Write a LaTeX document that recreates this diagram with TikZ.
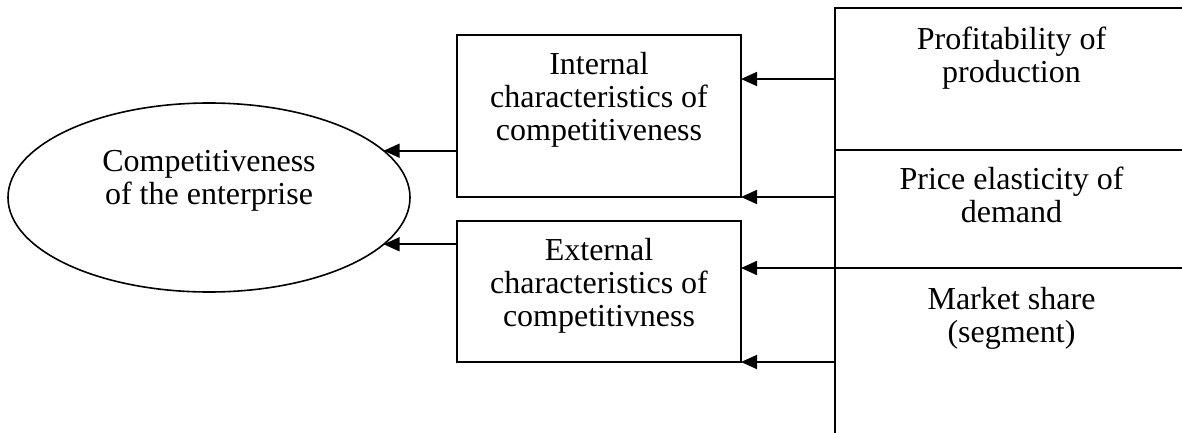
\documentclass[tikz,border=0pt]{standalone}
\usepackage{fontspec}
\setmainfont{Liberation Serif}
\usetikzlibrary{arrows.meta,positioning,shapes.geometric}

\begin{document}
\begin{tikzpicture}[x=1pt,y=1pt,
 node distance=24pt,
 b/.style={draw,line width=1.6pt,minimum width=284pt,inner sep=0pt,outer sep=0pt},
 c/.style={draw,line width=1.6pt,minimum width=353pt,inner sep=0pt,outer sep=0pt},
 t/.style={font=\fontsize{32}{33}\selectfont,align=center,inner sep=0pt,anchor=north},
 a/.style={-{Triangle[length=16pt,width=14pt]},line width=1.6pt}
]
\useasboundingbox (0,0) rectangle (1182,432);
\node[ellipse,draw,line width=1.6pt,outer sep=0pt,minimum width=402pt,minimum height=189pt,label={[t,yshift=-47pt]north:Competitiveness\\of the enterprise}] (comp) at (209,234.5) {};
\node[b,minimum height=162pt,label={[t,yshift=-17pt]north:Internal\\characteristics of\\competitiveness}] (intbox) at (599,316) {};
\node[b,minimum height=141pt,below=of intbox,label={[t,yshift=-17pt]north:External\\characteristics of\\competitivness}] (extbox) {};
\node[c,minimum height=142pt,label={[t,yshift=-19pt]north:Profitability of\\production}] (prof) at (1011.5,353) {};
\node[c,minimum height=118pt,below=0pt of prof,label={[t,yshift=-17pt]north:Price elasticity of\\demand}] (elast) {};
\node[c,minimum height=172pt,below=0pt of elast,label={[t,yshift=-19pt]north:Market share\\(segment)}] (share) {};
\draw[a] (intbox.west |- comp.15) -- (comp.15);\draw[a] (extbox.west |- comp.-15) -- (comp.-15);
\draw[a] (prof.west) -- (prof.west -| intbox.east);\draw[a] (intbox.south east -| prof.west) -- (intbox.south east);
\draw[a] (share.north west) -- (share.north west -| extbox.east);\draw[a] (extbox.south east -| prof.west) -- (extbox.south east);
\end{tikzpicture}
\end{document}
